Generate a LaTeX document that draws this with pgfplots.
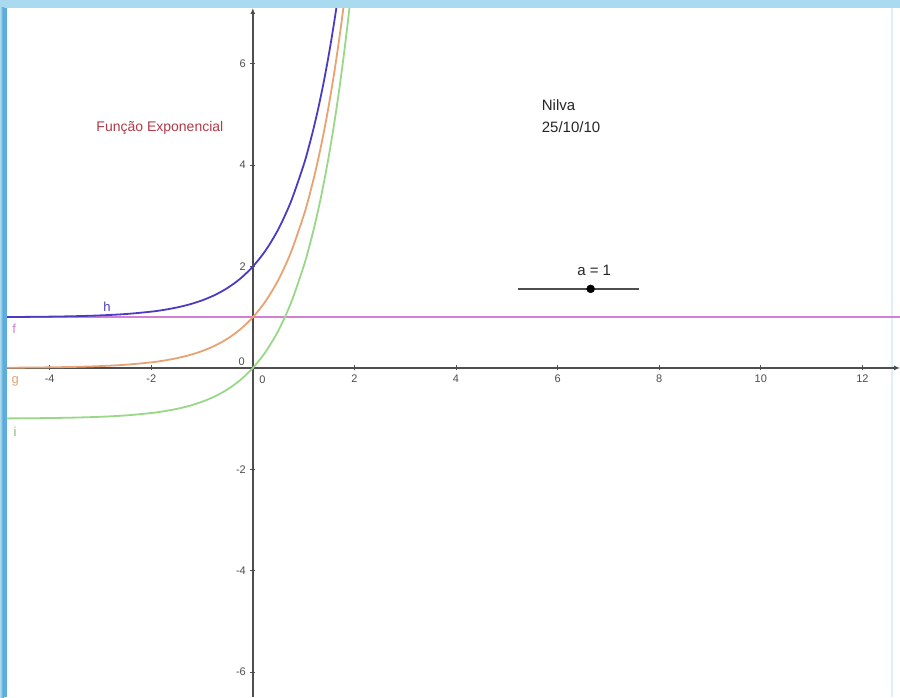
\documentclass[border=0pt]{standalone}
\usepackage{fontspec}
\setmainfont{Liberation Sans}
\usepackage{pgfplots}
\usepackage{pgfplotstable}
\pgfplotsset{compat=1.18}
\usetikzlibrary{arrows.meta}

\definecolor{hblue}{HTML}{4A3CC2}
\definecolor{gorange}{HTML}{E9A272}
\definecolor{igreen}{HTML}{98D888}
\definecolor{fmag}{HTML}{D27FD6}
\definecolor{axgray}{HTML}{4E4E4E}
\definecolor{titlered}{HTML}{B23A48}
\definecolor{winblue}{HTML}{A9DAF0}
\definecolor{winedge}{HTML}{3D9AD6}

% x, g(x), h(x) = g+1, i(x) = g-1
\pgfplotstableread{
x      g       h       i
-4.84  0.0049  1.0049  -0.9951
-4.5   0.0071  1.0071  -0.9929
-4.0   0.0123  1.0123  -0.9877
-3.5   0.0213  1.0213  -0.9787
-3.0   0.0369  1.0369  -0.9631
-2.5   0.0639  1.0639  -0.9361
-2.0   0.1108  1.1108  -0.8892
-1.75  0.1459  1.1459  -0.8541
-1.5   0.1920  1.1920  -0.8080
-1.25  0.2528  1.2528  -0.7472
-1.0   0.3329  1.3329  -0.6671
-0.75  0.4382  1.4382  -0.5618
-0.5   0.5769  1.5769  -0.4231
-0.25  0.7596  1.7596  -0.2404
0.0    1.0000  2.0000   0.0000
0.25   1.3165  2.3165   0.3165
0.5    1.7333  2.7333   0.7333
0.75   2.2819  3.2819   1.2819
1.0    3.0042  4.0042   2.0042
1.1    3.3535  4.3535   2.3535
1.2    3.7434  4.7434   2.7434
1.3    4.1787  5.1787   3.1787
1.4    4.6646  5.6646   3.6646
1.5    5.2070  6.2070   4.2070
1.6    5.8124  6.8124   4.8124
1.7    6.4883  7.4883   5.4883
1.8    7.2427  8.2427   6.2427
1.9    8.0849  9.0849   7.0849
2.0    9.0250  10.0250  8.0250
}\expdata

\begin{document}
\begin{tikzpicture}[x=1pt,y=1pt]
\path[use as bounding box] (0,0) rectangle (900,697);
\fill[white] (0,0) rectangle (900,697);
\fill[winblue!40] (891,0) rectangle (893,689);
\begin{axis}[at={(7pt,0pt)},anchor=south west,
  scale only axis,width=893pt,height=689pt,
  xmin=-4.84,xmax=12.74,ymin=-6.49,ymax=7.10,
  axis lines=middle,
  axis line style={axgray,line width=1.9pt,-{Latex[length=6pt,width=5pt]}},
  xtick={-4,-2,2,4,6,8,10,12},
  ytick={-6,-4,-2,2,4,6},
  major tick length=5pt,
  tick style={axgray,line width=1pt},
  tick align=center,
  /pgf/number format/assume math mode=true,
  ticklabel style={font=\fontsize{11}{13}\selectfont,text=axgray},
  xticklabel style={yshift=-1pt},
  yticklabel style={xshift=-1pt},
  clip=true]

\addplot[fmag,line width=2.2pt] coordinates {(-4.84,1) (12.74,1)};
\addplot[igreen,line width=1.8pt,smooth] table[x=x,y=i] {\expdata};
\addplot[gorange,line width=1.8pt,smooth] table[x=x,y=g] {\expdata};
\addplot[hblue,line width=1.8pt,smooth] table[x=x,y=h] {\expdata};

% slider a = 1
\addplot[axgray,line width=1.4pt] coordinates {(5.22,1.56) (7.60,1.56)};
\addplot[only marks,mark=*,mark size=4pt,black] coordinates {(6.65,1.56)};

\node[font=\fontsize{15}{18}\selectfont,text=black!85] at (axis cs:6.72,1.93) {a = 1};
\node[anchor=west,font=\fontsize{15}{18}\selectfont,text=black!85] at (axis cs:5.62,5.19) {Nilva};
\node[anchor=west,font=\fontsize{15}{18}\selectfont,text=black!85] at (axis cs:5.62,4.75) {25/10/10};
\node[font=\fontsize{14}{17}\selectfont,text=titlered] at (axis cs:-1.83,4.73) {Função Exponencial};

\node[font=\fontsize{13}{15}\selectfont,text=hblue] at (axis cs:-2.87,1.20) {h};
\node[font=\fontsize{13}{15}\selectfont,text=fmag] at (axis cs:-4.70,0.78) {f};
\node[font=\fontsize{13}{15}\selectfont,text=gorange] at (axis cs:-4.68,-0.26) {g};
\node[font=\fontsize{13}{15}\selectfont,text=igreen!85!black] at (axis cs:-4.68,-1.26) {i};

\node[font=\fontsize{11}{13}\selectfont,text=axgray] at (axis cs:-0.22,0.12) {0};
\node[font=\fontsize{11}{13}\selectfont,text=axgray] at (axis cs:0.19,-0.24) {0};
\end{axis}
% window frame
\fill[winblue] (0,689) rectangle (900,697);
\shade[left color=winblue,right color=winedge] (0,0) rectangle (4,689);
\fill[winedge!70!winblue] (4,0) rectangle (7,689);
\end{tikzpicture}
\end{document}
